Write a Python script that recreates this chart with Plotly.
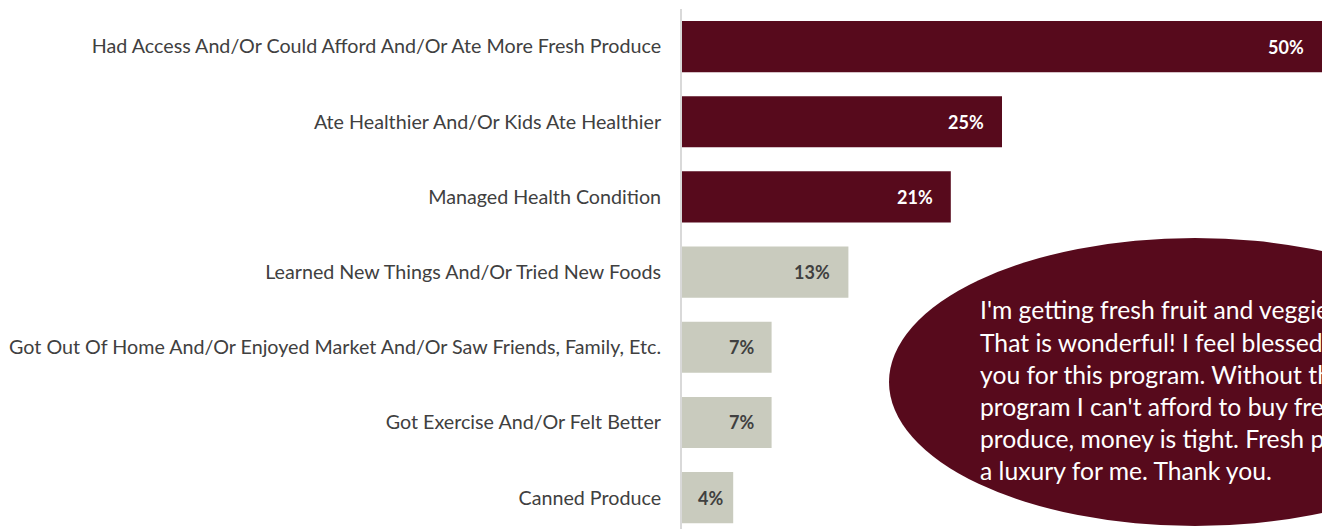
import plotly.graph_objects as go

categories = [
    "Had Access And/Or Could Afford And/Or Ate More Fresh Produce",
    "Ate Healthier And/Or Kids Ate Healthier",
    "Managed Health Condition",
    "Learned New Things And/Or Tried New Foods",
    "Got Out Of Home And/Or Enjoyed Market And/Or Saw Friends, Family, Etc.",
    "Got Exercise And/Or Felt Better",
    "Canned Produce",
]
values = [50, 25, 21, 13, 7, 7, 4]
highlight = [True, True, True, False, False, False, False]

quote_lines = [
    "I'm getting fresh fruit and veggies.",
    "That is wonderful! I feel blessed. Thank",
    "you for this program. Without this",
    "program I can't afford to buy fresh",
    "produce, money is tight. Fresh produce is",
    "a luxury for me. Thank you.",
]

MAROON = "#570a1c"
STONE = "#c9cbbe"
DARK = "#404040"
FONT = "Lato"

W, H = 1322, 529
ML, MT = 682, 9
plot_w, plot_h = W - ML, H - MT

bar_colors = [MAROON if h else STONE for h in highlight]

fig = go.Figure(
    go.Bar(
        x=values,
        y=categories,
        orientation="h",
        marker=dict(color=bar_colors, line=dict(width=0)),
        width=0.68,
        hoverinfo="skip",
    )
)

# value labels just inside the bar ends
for cat, v, h in zip(categories, values, highlight):
    fig.add_annotation(
        x=v, y=cat, xref="x", yref="y",
        text=f"<b>{v}%</b>",
        showarrow=False, xanchor="right", yanchor="middle",
        xshift=-16 if v > 5 else -8,
        font=dict(family=FONT, size=18, color="white" if h else DARK),
    )

# speech-bubble callout
def px_x(px):
    return (px - ML) / plot_w

def px_y(py):
    return (H - py) / plot_h

fig.add_shape(
    type="circle", xref="paper", yref="paper",
    x0=px_x(889), x1=px_x(1501), y0=px_y(526), y1=px_y(238),
    fillcolor=MAROON, line=dict(width=0), layer="above",
)

line_top, line_gap = 310, 32
for i, line in enumerate(quote_lines):
    fig.add_annotation(
        x=px_x(978), y=px_y(line_top + i * line_gap),
        xref="paper", yref="paper",
        text=line, showarrow=False, xanchor="left", yanchor="middle",
        align="left",
        font=dict(family=FONT, size=24.7, color="white"),
    )

pitch = 75.17
fig.update_layout(
    width=W, height=H,
    margin=dict(l=ML, r=0, t=MT, b=0, pad=0),
    plot_bgcolor="white", paper_bgcolor="white",
    showlegend=False,
    xaxis=dict(range=[0, 50], visible=False, fixedrange=True),
    yaxis=dict(
        range=[-0.5 + plot_h / pitch, -0.5],
        showline=True, linecolor="#d9d9d9", linewidth=2,
        showgrid=False, zeroline=False,
        ticks="", ticklabelstandoff=15,
        tickfont=dict(family=FONT, size=19.7, color=DARK),
        fixedrange=True,
    ),
)

fig.write_html("out.html")
